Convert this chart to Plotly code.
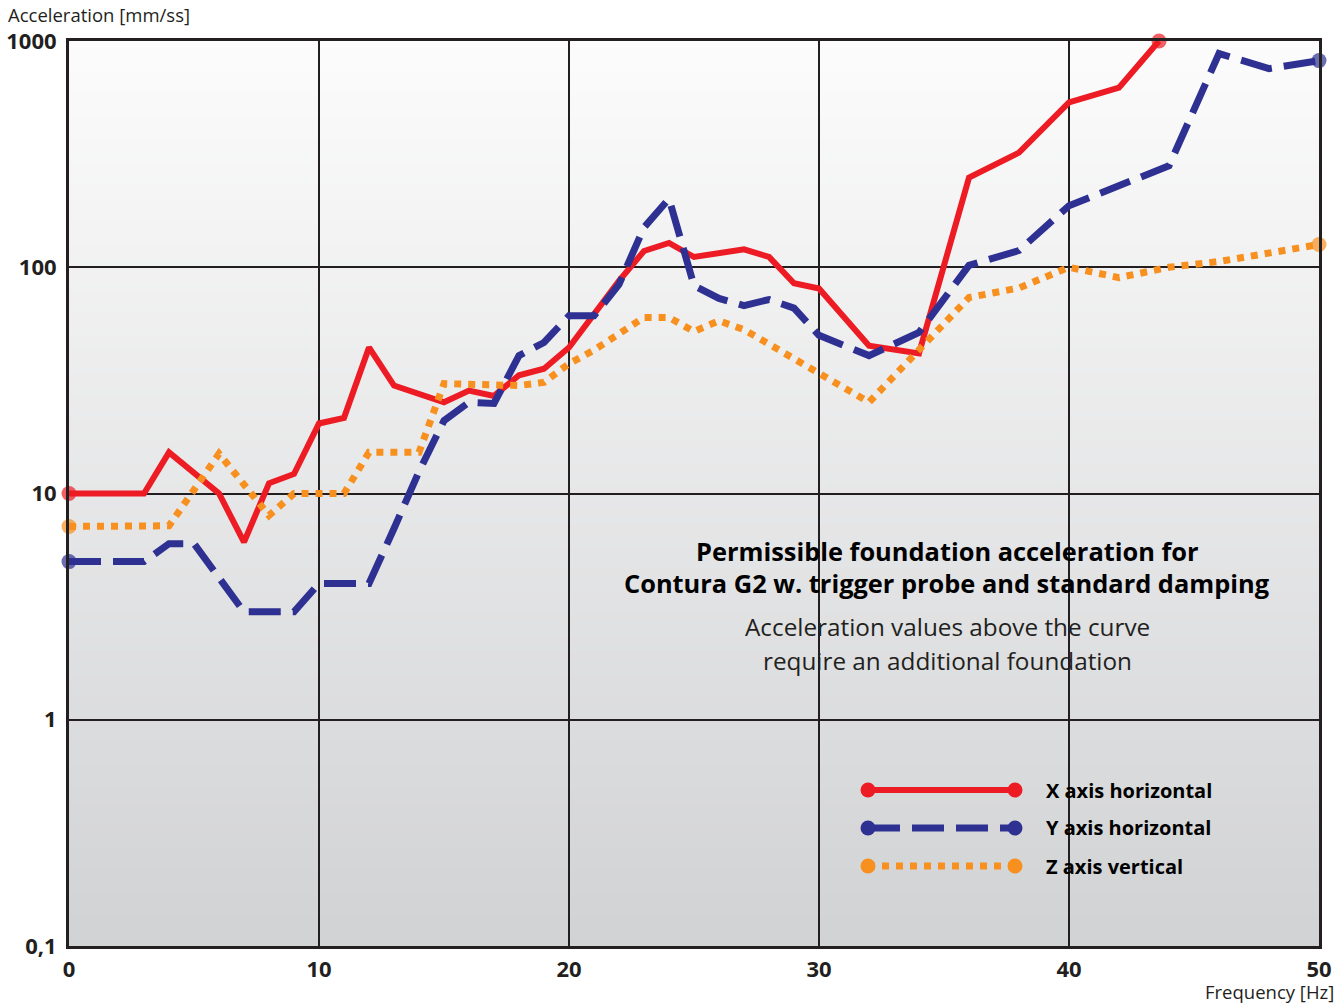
import plotly.graph_objects as go

# ---------------- data ----------------
freq_x = [0, 3, 4, 6, 7, 8, 9, 10, 11, 12, 13, 14, 15, 16, 17, 18, 19, 20, 21, 22, 23, 24, 25, 26, 27, 28, 29, 30, 32, 34, 36, 38, 40, 42, 43.6]
acc_x = [10, 10, 15.2, 10, 6.1, 11.1, 12.2, 20.4, 21.6, 44.2, 30, 27.5, 25.3, 28.5, 27, 33.3, 35.6, 44.2, 62, 87, 118, 128, 111, 115, 120, 111, 85, 80.5, 45, 41.6, 249, 321, 535, 622, 1000]

freq_y = [0, 3, 4, 5, 7, 9, 10, 12, 13, 14, 15, 16, 17, 18, 19, 20, 21, 22, 23, 24, 25, 26, 27, 28, 29, 30, 32, 34, 36, 38, 40, 44, 46, 48, 50]
acc_y = [5, 5, 6, 6, 3, 3, 4, 4, 7, 12.5, 21, 25.3, 25, 40.7, 46.5, 61, 61, 84, 150, 201, 83, 72.8, 67.7, 72, 66, 50, 40.7, 51.5, 102, 118.6, 187, 281, 880, 755, 819]

freq_z = [0, 4, 6, 8, 9, 11, 12, 14, 15, 17, 18, 19, 20, 21, 23, 24, 25, 26, 27, 32, 36, 38, 40, 42, 44, 46, 48, 50]
acc_z = [7.15, 7.2, 15, 8, 10, 10, 15.2, 15.2, 30.6, 30.5, 30, 31, 37.5, 43, 60, 60, 52, 58, 53, 25.3, 73.5, 81, 100, 90, 100, 106, 115, 126]

series_names = ["X axis horizontal", "Y axis horizontal", "Z axis vertical"]
x_ticks = [0, 10, 20, 30, 40, 50]
y_tickvals = [0.1, 1, 10, 100, 1000]
y_ticktext = ["0,1", "1", "10", "100", "1000"]

title_bold = ["Permissible foundation acceleration for",
              "Contura G2 w. trigger probe and standard damping"]
title_reg = ["Acceleration values above the curve",
             "require an additional foundation"]

# ---------------- styles ----------------
RED = "#ed1c24"
BLUE = "#2e3192"
ORANGE = "#f7901e"
INK = "#231f20"
FONT = "Open Sans"

W, H = 1343, 1003
L, R, T, B = 69, 24, 41, 57
PW, PH = W - L - R, H - T - B


def px_x(px):
    return (px - L) / PW


def px_y(py):
    return (H - B - py) / PH


fig = go.Figure()

styles = [
    (freq_x, acc_x, RED, 6, "solid"),
    (freq_y, acc_y, BLUE, 7, "32px,12px"),
    (freq_z, acc_z, ORANGE, 7, "7px,7px"),
]
for (fx, ay, col, w, dash), name in zip(styles, series_names):
    sizes = [15] + [0] * (len(fx) - 2) + [15]
    fig.add_trace(go.Scatter(
        x=fx, y=ay, mode="lines+markers", name=name,
        line=dict(color=col, width=w, dash=dash),
        marker=dict(color=col, size=sizes, line=dict(width=0)),
        showlegend=False, cliponaxis=False,
    ))

# ---------------- gradient background ----------------
top_c = (252, 252, 252)
bot_c = (209, 210, 212)
N = 120
shapes = []
bands = []
for i in range(N):
    f0 = i / N
    f1 = (i + 1) / N
    t = 1 - (f0 + f1) / 2  # 0 at top, 1 at bottom
    c = tuple(round(top_c[k] + (bot_c[k] - top_c[k]) * t) for k in range(3))
    col = "rgb(%d,%d,%d)" % c
    bands.append((f0, f1, col))
    shapes.append(dict(type="rect", xref="x domain", yref="y domain",
                       x0=0, x1=1, y0=f0, y1=min(f1 + 0.002, 1),
                       fillcolor=col, line=dict(width=0), layer="below"))

# masks that hide gridlines behind the text block and legend
masks = [
    (px_x(612), px_x(1290), px_y(690), px_y(525)),
    (px_x(845), px_x(1290), px_y(892), px_y(767)),
]
for mx0, mx1, my0, my1 in masks:
    for f0, f1, col in bands:
        a = max(f0, my0)
        b = min(f1 + 0.002, my1)
        if b > a:
            shapes.append(dict(type="rect", xref="paper", yref="paper",
                               x0=mx0, x1=mx1, y0=a, y1=b,
                               fillcolor=col, line=dict(width=0), layer="between"))

# ---------------- custom legend ----------------
leg_rows = [790, 828, 866]
for (fx, ay, col, w, dash), name, ry in zip(styles, series_names, leg_rows):
    yy = px_y(ry)
    shapes.append(dict(type="line", xref="paper", yref="paper",
                       x0=px_x(868), x1=px_x(1015), y0=yy, y1=yy,
                       line=dict(color=col, width=w, dash=dash), layer="above"))
    for cx in (868, 1015):
        shapes.append(dict(type="circle", xref="paper", yref="paper",
                           xsizemode="pixel", ysizemode="pixel",
                           xanchor=px_x(cx), yanchor=yy,
                           x0=-7.5, x1=7.5, y0=-7.5, y1=7.5,
                           fillcolor=col, line=dict(width=0), layer="above"))

annotations = []
for name, ry in zip(series_names, leg_rows):
    annotations.append(dict(xref="paper", yref="paper", x=px_x(1044), y=px_y(ry),
                            xanchor="left", yanchor="middle", showarrow=False,
                            text="<b>%s</b>" % name,
                            font=dict(family=FONT, size=20, color="#000000")))

for txt, ry in zip(title_bold, [551, 583]):
    annotations.append(dict(xref="paper", yref="paper", x=px_x(947), y=px_y(ry),
                            xanchor="center", yanchor="middle", showarrow=False,
                            text="<b>%s</b>" % txt,
                            font=dict(family=FONT, size=25.4, color="#000000")))
for txt, ry in zip(title_reg, [626, 660]):
    annotations.append(dict(xref="paper", yref="paper", x=px_x(947), y=px_y(ry),
                            xanchor="center", yanchor="middle", showarrow=False,
                            text=txt,
                            font=dict(family=FONT, size=24.3, color=INK)))

annotations.append(dict(xref="paper", yref="paper", x=px_x(6), y=px_y(15),
                        xanchor="left", yanchor="middle", showarrow=False,
                        text="Acceleration [mm/ss]",
                        font=dict(family=FONT, size=18.5, color=INK)))
annotations.append(dict(xref="paper", yref="paper", x=px_x(1336), y=px_y(991),
                        xanchor="right", yanchor="middle", showarrow=False,
                        text="Frequency [Hz]",
                        font=dict(family=FONT, size=18.5, color=INK)))

fig.update_layout(
    width=W, height=H,
    margin=dict(l=L, r=R, t=T, b=B, pad=0, autoexpand=False),
    paper_bgcolor="white", plot_bgcolor="rgba(0,0,0,0)",
    shapes=shapes, annotations=annotations,
    showlegend=False,
    font=dict(family=FONT, color=INK),
)
fig.update_xaxes(
    range=[0, 50], tickvals=x_ticks, ticktext=["<b>%d</b>" % v for v in x_ticks],
    showgrid=True, gridcolor=INK, gridwidth=1.5, zeroline=False,
    showline=True, mirror=True, linecolor=INK, linewidth=3,
    ticks="", ticklabelstandoff=2, automargin=False,
    tickfont=dict(family=FONT, size=22, color=INK),
)
fig.update_yaxes(
    type="log", range=[-1, 3], tickvals=y_tickvals,
    ticktext=["<b>%s</b>" % t for t in y_ticktext],
    showgrid=True, gridcolor=INK, gridwidth=1.5, zeroline=False,
    showline=True, mirror=True, linecolor=INK, linewidth=3,
    ticks="", ticklabelstandoff=5, automargin=False,
    tickfont=dict(family=FONT, size=22, color=INK),
)

fig.write_html(
    "out.html",
    config={"displayModeBar": False},
    post_script="document.body.style.margin='0px';document.body.style.overflow='hidden';",
)
